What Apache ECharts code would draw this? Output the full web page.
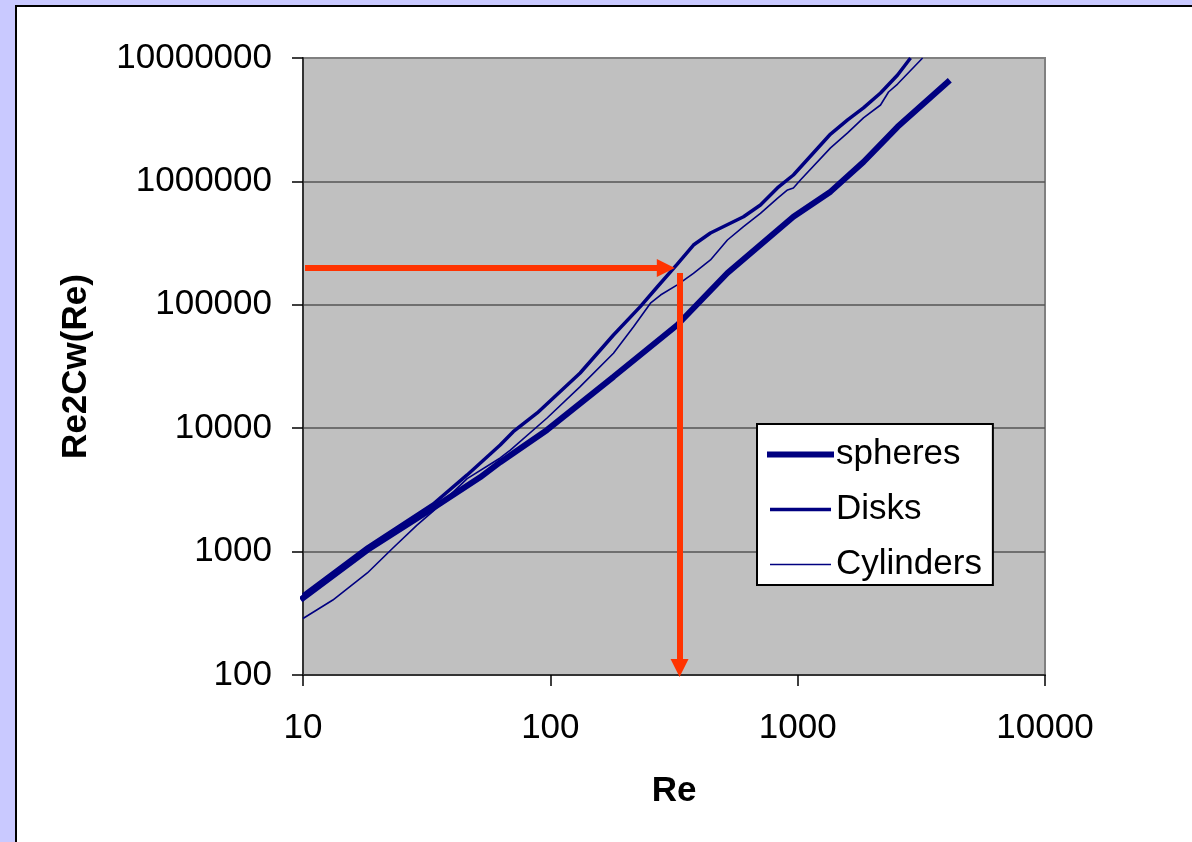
<!DOCTYPE html>
<html>
<head>
<meta charset="utf-8">
<script src="https://cdn.jsdelivr.net/npm/echarts@6/dist/echarts.min.js"></script>
<style>
  html, body { margin: 0; padding: 0; width: 1192px; height: 842px; overflow: hidden; background: #c9c9ff; }
  #frame { position: absolute; left: 15px; top: 5px; width: 1300px; height: 1000px; border: 2px solid #000; background: #fff; }
  #chart { position: absolute; left: 0; top: 0; width: 1192px; height: 842px; }
</style>
</head>
<body>
<div id="frame"></div>
<div id="chart"></div>
<script>
// ---- data ----
const seriesNames = ['spheres', 'Disks', 'Cylinders'];
const xTickLabels = ['10', '100', '1000', '10000'];
const yTickLabels = ['100', '1000', '10000', '100000', '1000000', '10000000'];

const spheresRe  = [10, 18.2, 33.6, 52, 62.7, 97, 180, 326, 520, 961, 1358, 1845, 2535, 4036];
const spheresVal = [421, 1030, 2255, 4000, 5300, 9680, 26100, 68600, 181000, 517000, 826000, 1436000, 2770000, 6360000];

const disksRe  = [10, 18.2, 33.6, 46.1, 62.7, 70.8, 88.5, 132, 180, 231, 271, 326, 379, 444, 604, 707, 828, 961, 1358, 1592, 1845, 2163, 2535, 2860];
const disksVal = [445, 1090, 2430, 4180, 7310, 9370, 13300, 28000, 56900, 96600, 140000, 214000, 305000, 382000, 517000, 644000, 885000, 1127000, 2420000, 3150000, 3940000, 5200000, 7280000, 10000000];

const cylRe  = [10, 13.2, 18.2, 23.1, 28.9, 33.6, 46.1, 62.7, 68.9, 97, 132, 180, 217, 254, 279, 326, 379, 444, 520, 604, 707, 828, 910, 961, 1026, 1358, 1592, 1845, 2163, 2330, 2535, 3200];
const cylVal = [287, 405, 671, 1070, 1640, 2130, 3900, 5740, 6650, 12100, 21700, 40500, 66500, 103000, 120000, 145000, 180000, 231000, 335000, 430000, 551000, 729000, 852000, 885000, 1027000, 1870000, 2470000, 3270000, 4160000, 5300000, 6150000, 10000000];

// red annotation arrows: [Re, value] start and end
const arrowH = [[10.19, 199000], [293, 199000]];
const arrowV = [[333, 181000], [333, 114]];

// ---- chart ----
const zip = (a, b) => a.map((v, i) => [v, b[i]]);
const navy = '#000080';
const font = 'Liberation Sans, Arial, sans-serif';
const lineWidths = [6, 3.5, 1.6];

const chart = echarts.init(document.getElementById('chart'), null, { renderer: 'canvas' });
chart.setOption({
  backgroundColor: 'transparent',
  animation: false,
  grid: {
    left: 303, top: 58, width: 742, height: 617,
    show: true, backgroundColor: '#c0c0c0', borderColor: '#808080', borderWidth: 2,
    outerBoundsMode: 'none'
  },
  legend: {
    data: seriesNames.map((n, i) => ({ name: n, lineStyle: { width: lineWidths[i], color: navy } })),
    orient: 'vertical',
    left: 757, top: 424,
    backgroundColor: '#fff', borderColor: '#000', borderWidth: 2,
    padding: [13, 11, 3, 10],
    itemWidth: 61, itemHeight: 14, itemGap: 20,
    itemStyle: { opacity: 0 },
    textStyle: { fontSize: 35, color: '#000', fontFamily: font }
  },
  xAxis: {
    type: 'log', logBase: 10, min: 10, max: 10000,
    name: 'Re', nameLocation: 'middle', nameGap: 99,
    nameTextStyle: { fontSize: 35, fontWeight: 'bold', color: '#000', fontFamily: font },
    axisLine: { show: true, lineStyle: { color: '#333', width: 2 } },
    axisTick: { show: true, inside: false, length: 11, lineStyle: { color: '#000', width: 1.5 } },
    minorTick: { show: false },
    splitLine: { show: false },
    axisLabel: {
      margin: 36, fontSize: 35, color: '#000', fontFamily: font,
      showMinLabel: true, showMaxLabel: true,
      formatter: v => xTickLabels[Math.round(Math.log10(v)) - 1]
    }
  },
  yAxis: {
    type: 'log', logBase: 10, min: 100, max: 10000000,
    name: 'Re2Cw(Re)', nameLocation: 'middle', nameGap: 209,
    nameTextStyle: { fontSize: 35, fontWeight: 'bold', color: '#000', fontFamily: font },
    axisLine: { show: true, lineStyle: { color: '#333', width: 2 } },
    axisTick: { show: true, inside: false, length: 11, lineStyle: { color: '#000', width: 1.5 } },
    splitLine: { show: true, showMinLine: false, showMaxLine: false, lineStyle: { color: '#555', width: 1.5 } },
    axisLabel: {
      margin: 31, fontSize: 35, color: '#000', fontFamily: font,
      padding: [3, 0, 0, 0],
      showMinLabel: true, showMaxLabel: true,
      formatter: v => yTickLabels[Math.round(Math.log10(v)) - 2]
    }
  },
  series: [
    { name: seriesNames[0], type: 'line', symbol: 'none', showSymbol: false, data: zip(spheresRe, spheresVal),
      lineStyle: { color: navy, width: lineWidths[0], cap: 'square' }, itemStyle: { color: navy }, z: 2 },
    { name: seriesNames[1], type: 'line', symbol: 'none', showSymbol: false, data: zip(disksRe, disksVal),
      lineStyle: { color: navy, width: lineWidths[1] }, itemStyle: { color: navy }, z: 3 },
    { name: seriesNames[2], type: 'line', symbol: 'none', showSymbol: false, data: zip(cylRe, cylVal),
      lineStyle: { color: navy, width: lineWidths[2] }, itemStyle: { color: navy }, z: 4 },
    { name: 'arrows', type: 'line', data: [], z: 10,
      markLine: {
        silent: true, animation: false,
        symbol: ['none', 'triangle'], symbolSize: [18, 18],
        label: { show: false },
        lineStyle: { color: '#ff3300', width: 6, type: 'solid' },
        itemStyle: { color: '#ff3300' },
        emphasis: { disabled: true },
        data: [
          [{ coord: arrowH[0] }, { coord: arrowH[1] }],
          [{ coord: arrowV[0] }, { coord: arrowV[1] }]
        ]
      }
    }
  ]
});
</script>
</body>
</html>
